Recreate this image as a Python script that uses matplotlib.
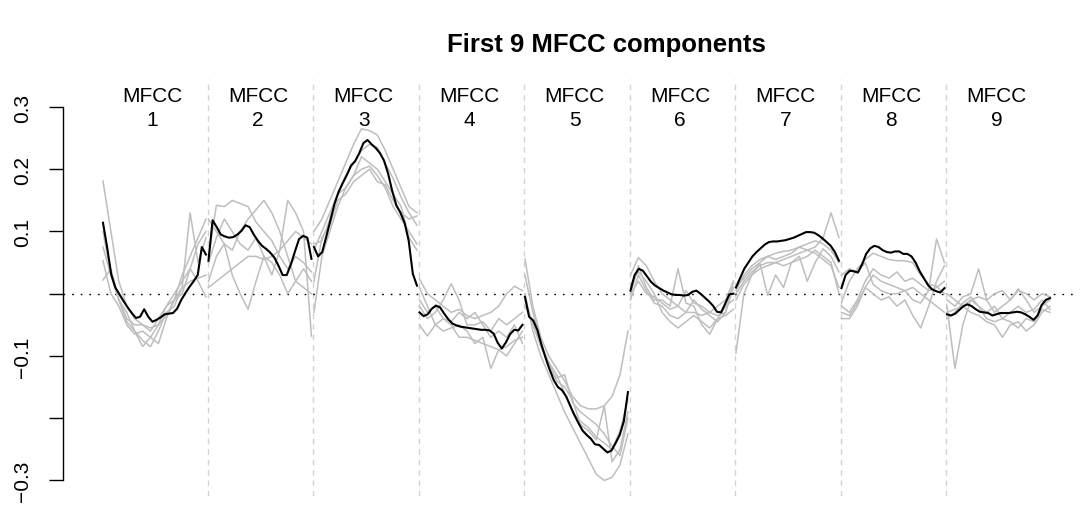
import numpy as np
import matplotlib
matplotlib.use("Agg")
import matplotlib.pyplot as plt

plt.rcParams['font.family'] = ['Liberation Sans', 'DejaVu Sans']

# 每个 MFCC 分量：黑线为平均曲线，灰线为各样本曲线
mean_1 = [0.114, 0.075, 0.031, 0.010, -0.001, -0.012, -0.022, -0.031, -0.039, -0.037, -0.025, -0.037, -0.045,
          -0.042, -0.038, -0.033, -0.032, -0.031, -0.024, -0.010, 0.001, 0.011, 0.020, 0.030, 0.075, 0.063]
mean_2 = [0.053, 0.118, 0.107, 0.095, 0.092, 0.090, 0.091, 0.095, 0.101, 0.110, 0.107, 0.095, 0.085,
          0.077, 0.072, 0.066, 0.058, 0.045, 0.030, 0.030, 0.047, 0.068, 0.088, 0.093, 0.090, 0.056]
mean_3 = [0.075, 0.060, 0.067, 0.092, 0.118, 0.145, 0.164, 0.178, 0.191, 0.206, 0.213, 0.226, 0.242,
          0.247, 0.240, 0.234, 0.226, 0.214, 0.193, 0.165, 0.142, 0.130, 0.114, 0.085, 0.032, 0.013]
mean_4 = [-0.030, -0.036, -0.033, -0.024, -0.019, -0.022, -0.032, -0.041, -0.048, -0.051, -0.053, -0.054, -0.055,
          -0.056, -0.057, -0.058, -0.058, -0.059, -0.064, -0.079, -0.088, -0.078, -0.065, -0.058, -0.059, -0.050]
mean_5 = [-0.005, -0.037, -0.043, -0.058, -0.082, -0.103, -0.122, -0.139, -0.150, -0.155, -0.165, -0.180, -0.195,
          -0.208, -0.220, -0.227, -0.233, -0.242, -0.243, -0.249, -0.255, -0.252, -0.240, -0.227, -0.205, -0.158]
mean_6 = [0.005, 0.030, 0.040, 0.037, 0.028, 0.019, 0.013, 0.009, 0.005, 0.002, -0.001, -0.002, -0.002,
          -0.003, -0.002, 0.003, 0.005, 0.000, -0.006, -0.012, -0.019, -0.029, -0.030, -0.016, -0.001, 0.000]
mean_7 = [0.010, 0.025, 0.040, 0.050, 0.060, 0.067, 0.073, 0.079, 0.083, 0.084, 0.084, 0.085, 0.086,
          0.088, 0.090, 0.093, 0.096, 0.099, 0.099, 0.098, 0.094, 0.089, 0.083, 0.077, 0.067, 0.053]
mean_8 = [0.009, 0.030, 0.037, 0.036, 0.034, 0.047, 0.064, 0.073, 0.077, 0.075, 0.070, 0.067, 0.066,
          0.068, 0.068, 0.064, 0.064, 0.060, 0.050, 0.036, 0.025, 0.014, 0.007, 0.004, 0.002, 0.009]
mean_9 = [-0.033, -0.035, -0.032, -0.026, -0.020, -0.017, -0.020, -0.025, -0.029, -0.030, -0.031, -0.035, -0.033,
          -0.031, -0.031, -0.031, -0.030, -0.029, -0.030, -0.033, -0.037, -0.042, -0.035, -0.018, -0.010, -0.007]

grey_1 = [[0.181, 0.10, 0.02, -0.02, -0.04, -0.05, -0.055, -0.05, -0.035, -0.01, 0.03, 0.06, 0.09, 0.12],
          [0.075, 0.03, -0.01, -0.03, -0.06, -0.085, -0.07, -0.08, -0.04, -0.01, 0.01, 0.13, 0.05, 0.09],
          [0.053, 0.0, -0.02, -0.05, -0.065, -0.06, -0.07, -0.05, -0.02, -0.01, 0.00, 0.04, 0.08, 0.10],
          [0.022, 0.04, -0.01, -0.045, -0.06, -0.075, -0.085, -0.06, -0.03, -0.02, 0.01, 0.02, 0.025, 0.03],
          [0.10, 0.03, -0.01, -0.04, -0.05, -0.05, -0.06, -0.04, -0.02, 0.0, 0.02, 0.04, 0.02, -0.005]]
grey_2 = [[0.06, 0.142, 0.14, 0.15, 0.145, 0.14, 0.115, 0.10, 0.085, 0.06, 0.04, 0.06, 0.05, 0.035],
          [0.12, 0.10, 0.08, 0.07, 0.10, 0.12, 0.135, 0.15, 0.13, 0.10, 0.06, 0.02, 0.01, 0.0],
          [0.02, 0.06, 0.08, 0.03, 0.0, -0.025, 0.02, 0.06, 0.05, 0.03, 0.0, 0.02, 0.04, 0.02],
          [0.01, 0.02, 0.03, 0.04, 0.05, 0.06, 0.06, 0.055, 0.06, 0.07, 0.085, 0.10, 0.09, 0.08],
          [0.05, 0.09, 0.12, 0.10, 0.08, 0.07, 0.09, 0.06, 0.03, 0.07, 0.15, 0.13, 0.10, -0.068]]
grey_3 = [[0.10, 0.12, 0.15, 0.18, 0.21, 0.24, 0.265, 0.262, 0.255, 0.23, 0.20, 0.17, 0.14, 0.13],
          [0.07, 0.10, 0.13, 0.16, 0.19, 0.21, 0.23, 0.24, 0.235, 0.21, 0.185, 0.155, 0.13, 0.11],
          [-0.03, 0.06, 0.10, 0.14, 0.17, 0.19, 0.20, 0.205, 0.19, 0.17, 0.14, 0.12, 0.10, 0.08],
          [0.02, 0.09, 0.11, 0.15, 0.16, 0.18, 0.19, 0.20, 0.18, 0.175, 0.15, 0.13, 0.12, 0.125],
          [0.08, 0.085, 0.12, 0.16, 0.17, 0.19, 0.22, 0.21, 0.20, 0.18, 0.16, 0.14, 0.09, 0.07]]
grey_4 = [[0.024, 0.00, -0.01, -0.02, -0.03, -0.025, -0.035, -0.04, -0.035, -0.03, -0.02, 0.00, 0.012, 0.005],
          [-0.02, -0.04, -0.03, -0.01, 0.016, -0.01, -0.05, -0.05, -0.045, -0.06, -0.04, -0.05, -0.04, -0.03],
          [-0.05, -0.068, -0.05, -0.04, -0.05, -0.07, -0.07, -0.075, -0.08, -0.085, -0.09, -0.085, -0.075, -0.07],
          [0.01, -0.02, -0.05, -0.06, -0.055, -0.05, -0.06, -0.08, -0.07, -0.12, -0.09, -0.10, -0.08, -0.06],
          [-0.01, -0.03, -0.02, -0.04, -0.045, -0.03, -0.04, -0.03, -0.05, -0.07, -0.06, -0.07, -0.05, -0.08]]
grey_5 = [[0.056, -0.02, -0.07, -0.10, -0.12, -0.14, -0.165, -0.18, -0.185, -0.185, -0.18, -0.165, -0.13, -0.06],
          [0.0, -0.06, -0.10, -0.13, -0.16, -0.19, -0.215, -0.24, -0.265, -0.29, -0.30, -0.295, -0.275, -0.225],
          [-0.01, -0.05, -0.085, -0.11, -0.14, -0.15, -0.17, -0.21, -0.22, -0.235, -0.18, -0.27, -0.25, -0.19],
          [0.03, -0.03, -0.075, -0.12, -0.135, -0.13, -0.175, -0.19, -0.20, -0.21, -0.225, -0.245, -0.26, -0.20],
          [-0.02, -0.045, -0.08, -0.11, -0.13, -0.16, -0.19, -0.205, -0.215, -0.23, -0.24, -0.25, -0.22, -0.17]]
grey_6 = [[0.03, 0.058, 0.045, 0.02, 0.0, -0.01, -0.02, -0.03, -0.03, -0.035, -0.03, -0.035, -0.03, 0.02],
          [0.015, 0.035, 0.02, 0.0, -0.03, -0.045, -0.055, -0.045, -0.035, -0.045, -0.055, -0.04, -0.02, -0.01],
          [0.00, 0.045, 0.01, -0.01, -0.01, -0.02, 0.04, -0.015, -0.02, -0.05, -0.065, -0.04, -0.035, -0.025],
          [-0.01, 0.03, 0.005, -0.015, -0.02, -0.035, -0.04, -0.03, -0.01, -0.025, -0.035, -0.045, -0.03, 0.01],
          [0.0, 0.02, 0.0, -0.005, -0.015, -0.025, -0.02, 0.005, -0.015, -0.02, -0.03, -0.02, -0.01, 0.02]]
grey_7 = [[0.005, 0.03, 0.045, 0.055, 0.06, 0.065, 0.068, 0.07, 0.075, 0.08, 0.085, 0.08, 0.07, 0.05],
          [-0.095, 0.0, 0.03, 0.05, 0.06, 0.055, 0.06, 0.065, 0.075, 0.07, 0.075, 0.09, 0.13, 0.09],
          [0.01, 0.025, 0.04, 0.05, -0.003, 0.03, 0.01, 0.05, 0.06, 0.02, 0.05, 0.072, 0.06, 0.035],
          [0.0, 0.02, 0.035, 0.045, 0.05, 0.05, 0.055, 0.06, 0.065, 0.07, 0.065, 0.055, 0.045, 0.01],
          [-0.01, 0.015, 0.03, 0.04, 0.045, 0.05, 0.045, 0.05, 0.055, 0.06, 0.07, 0.06, 0.05, 0.0]]
grey_8 = [[-0.014, 0.02, 0.04, 0.055, 0.065, 0.06, 0.055, 0.053, 0.053, 0.05, 0.03, 0.015, 0.012, 0.0],
          [-0.04, -0.04, -0.02, 0.01, 0.03, 0.02, 0.015, 0.01, 0.005, 0.01, 0.0, -0.01, -0.02, -0.03],
          [-0.02, -0.03, -0.01, 0.02, 0.04, 0.03, 0.025, 0.035, 0.02, 0.025, 0.015, 0.005, 0.01, 0.02],
          [-0.03, -0.035, -0.015, 0.01, 0.0, -0.01, -0.005, -0.02, -0.01, -0.035, -0.055, -0.02, 0.02, 0.045],
          [0.03, 0.04, 0.035, 0.05, 0.015, 0.005, 0.0, 0.0, 0.005, -0.01, -0.015, 0.005, 0.088, 0.05]]
grey_9 = [[-0.02, -0.12, -0.05, -0.01, -0.02, -0.03, -0.02, -0.04, -0.03, -0.02, -0.03, -0.025, -0.01, -0.025],
          [-0.01, -0.02, -0.005, 0.0, 0.04, -0.01, -0.03, -0.02, -0.01, 0.005, 0.0, -0.01, 0.0, -0.005],
          [-0.03, -0.025, -0.02, -0.03, -0.035, -0.045, -0.05, -0.07, -0.05, -0.045, -0.06, -0.05, -0.03, -0.02],
          [-0.04, -0.03, -0.015, -0.005, -0.02, -0.04, -0.045, -0.04, -0.045, -0.055, -0.04, -0.045, -0.025, -0.03],
          [0.0, -0.01, -0.02, -0.01, -0.005, -0.01, 0.0, 0.005, -0.01, 0.008, -0.01, -0.03, -0.02, -0.01]]

components = ["1", "2", "3", "4", "5", "6", "7", "8", "9"]
means = [mean_1, mean_2, mean_3, mean_4, mean_5, mean_6, mean_7, mean_8, mean_9]
greys = [grey_1, grey_2, grey_3, grey_4, grey_5, grey_6, grey_7, grey_8, grey_9]

y_ticks = [-0.3, -0.2, -0.1, 0.0, 0.1, 0.2, 0.3]
y_labels = ["\u22120.3", "", "\u22120.1", "", "0.1", "0.2", "0.3"]


def main():
    fig = plt.figure(figsize=(10.81, 5.06), dpi=100)
    ax = fig.add_axes([63 / 1081, 9 / 506, 1015 / 1081, 417 / 506])

    seg_w = 0.976
    for k in range(len(components)):
        for g in greys[k]:
            ax.plot(np.linspace(k, k + seg_w, len(g)), g, color="#bebebe", lw=1.1, zorder=2)
        m = means[k]
        ax.plot(np.linspace(k, k + seg_w, len(m)), m, color="black", lw=1.5, zorder=3)
        # 分量标签
        ax.text(k + 0.47, 0.3177, "MFCC", ha="center", va="center", fontsize=15)
        ax.text(k + 0.47, 0.280, components[k], ha="center", va="center", fontsize=15)
        if k > 0:
            ax.axvline(k - 0.005, color="#d3d3d3", lw=1.0, linestyle=(0, (4, 3.5)), zorder=1)

    ax.axhline(0, color="black", lw=1.0, linestyle=(0, (1.2, 5)), zorder=1)

    ax.set_xlim(-0.379, 9.242)
    ax.set_ylim(-0.325, 0.345)

    for s in ["top", "right", "bottom"]:
        ax.spines[s].set_visible(False)
    ax.spines["left"].set_bounds(-0.3, 0.3)
    ax.spines["left"].set_linewidth(1.0)
    ax.set_xticks([])
    ax.set_yticks(y_ticks)
    ax.set_yticklabels(y_labels, rotation=90, va="center", fontsize=15)
    ax.tick_params(axis="y", length=10, width=1.0, pad=12)

    fig.text(606 / 1081, 1 - 45 / 506, "First 9 MFCC components", ha="center", va="center",
             fontsize=18.5, fontweight="bold")

    fig.savefig("out.png", dpi=100)


if __name__ == "__main__":
    main()
